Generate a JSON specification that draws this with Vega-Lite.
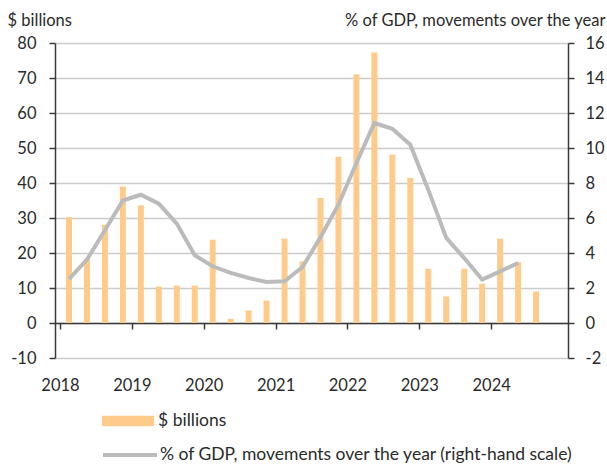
{
  "$schema": "https://vega.github.io/schema/vega-lite/v6.json",
  "width": 513,
  "height": 315,
  "autosize": "none",
  "padding": {"left": 55, "top": 43, "right": 39, "bottom": 109},
  "data": {
    "values": [
      {"t": 2018.125, "bn": 30.2, "pct": 2.51},
      {"t": 2018.375, "bn": 18.3, "pct": 3.62},
      {"t": 2018.625, "bn": 28.1, "pct": 5.3},
      {"t": 2018.875, "bn": 39.0, "pct": 7.0},
      {"t": 2019.125, "bn": 33.6, "pct": 7.33},
      {"t": 2019.375, "bn": 10.4, "pct": 6.82},
      {"t": 2019.625, "bn": 10.7, "pct": 5.68},
      {"t": 2019.875, "bn": 10.7, "pct": 3.87},
      {"t": 2020.125, "bn": 23.8, "pct": 3.24},
      {"t": 2020.375, "bn": 1.2, "pct": 2.86},
      {"t": 2020.625, "bn": 3.6, "pct": 2.57},
      {"t": 2020.875, "bn": 6.4, "pct": 2.34},
      {"t": 2021.125, "bn": 24.1, "pct": 2.38},
      {"t": 2021.375, "bn": 17.6, "pct": 3.2},
      {"t": 2021.625, "bn": 35.7, "pct": 4.9},
      {"t": 2021.875, "bn": 47.5, "pct": 6.76},
      {"t": 2022.125, "bn": 71.1, "pct": 9.14},
      {"t": 2022.375, "bn": 77.3, "pct": 11.43},
      {"t": 2022.625, "bn": 48.1, "pct": 11.1},
      {"t": 2022.875, "bn": 41.5, "pct": 10.19},
      {"t": 2023.125, "bn": 15.5, "pct": 7.62},
      {"t": 2023.375, "bn": 7.6, "pct": 4.86},
      {"t": 2023.625, "bn": 15.5, "pct": 3.71},
      {"t": 2023.875, "bn": 11.2, "pct": 2.48},
      {"t": 2024.125, "bn": 24.1, "pct": 2.95},
      {"t": 2024.375, "bn": 17.4, "pct": 3.43},
      {"t": 2024.625, "bn": 9.0, "pct": null}
    ]
  },
  "config": {
    "view": {"stroke": null},
    "font": "Lato",
    "axis": {
      "labelFont": "Lato",
      "labelFontSize": 16.5,
      "labelColor": "#2a2a2a",
      "titleFont": "Lato",
      "titleFontSize": 16.5,
      "titleFontWeight": "normal",
      "titleColor": "#2a2a2a",
      "domainColor": "#3a3a3a",
      "domainWidth": 1.5,
      "tickColor": "#3a3a3a",
      "tickWidth": 1.5,
      "tickSize": 6,
      "labelFlush": false,
      "labelOverlap": false,
      "labelExpr": "replace(datum.label, '\u2212', '-')"
    },
    "legend": {
      "labelFont": "Lato",
      "labelFontSize": 17.5,
      "labelColor": "#2a2a2a",
      "labelLimit": 600
    }
  },
  "layer": [
    {
      "mark": {"type": "bar", "size": 6},
      "encoding": {
        "x": {
          "field": "t",
          "type": "quantitative",
          "scale": {"domain": [2018, 2025], "nice": false, "zero": false},
          "axis": {
            "title": null,
            "values": [2018, 2019, 2020, 2021, 2022, 2023, 2024],
            "format": "d",
            "offset": -35,
            "labelPadding": 48,
            "grid": false
          }
        },
        "y": {
          "field": "bn",
          "type": "quantitative",
          "scale": {"domain": [-10, 80], "nice": false, "zero": false},
          "axis": {
            "orient": "left",
            "values": [-10, 0, 10, 20, 30, 40, 50, 60, 70, 80],
            "title": "$ billions",
            "titleAngle": 0,
            "titleAlign": "left",
            "titleBaseline": "middle",
            "titleX": -48,
            "titleY": -23,
            "labelPadding": 13,
            "grid": true,
            "gridColor": "#CCCCCC",
            "gridWidth": 1.3
          }
        },
        "fill": {
          "datum": "$ billions",
          "scale": {"range": ["#FFCB8A"]},
          "legend": {
            "orient": "none",
            "legendX": 47,
            "legendY": 352,
            "title": null,
            "padding": 0,
            "symbolType": "M-1,-0.2H1V0.2H-1Z",
            "symbolSize": 2704,
            "symbolStrokeWidth": 0,
            "labelOffset": 4
          }
        }
      }
    },
    {
      "mark": {"type": "line", "strokeWidth": 4},
      "encoding": {
        "x": {"field": "t", "type": "quantitative"},
        "y": {
          "field": "pct",
          "type": "quantitative",
          "scale": {"domain": [-2, 16], "nice": false, "zero": false},
          "axis": {
            "orient": "right",
            "values": [-2, 0, 2, 4, 6, 8, 10, 12, 14, 16],
            "title": "% of GDP, movements over the year",
            "titleAngle": 0,
            "titleAlign": "right",
            "titleBaseline": "middle",
            "titleX": 37,
            "titleY": -23,
            "labelPadding": 11,
            "grid": false
          }
        },
        "stroke": {
          "datum": "% of GDP, movements over the year (right-hand scale)",
          "scale": {"range": ["#BBBBBB"]},
          "legend": {
            "orient": "none",
            "legendX": 46,
            "legendY": 383,
            "title": null,
            "padding": 0,
            "symbolType": "stroke",
            "symbolSize": 2916,
            "symbolStrokeWidth": 4,
            "labelOffset": 1
          }
        }
      }
    }
  ],
  "resolve": {"scale": {"y": "independent"}}
}
